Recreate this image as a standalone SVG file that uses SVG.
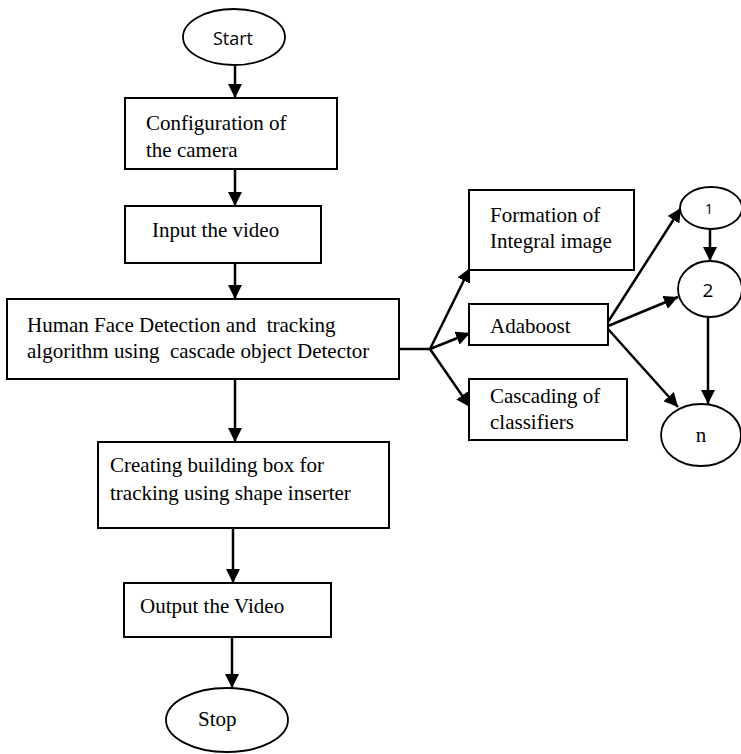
<svg xmlns="http://www.w3.org/2000/svg" width="741" height="754" viewBox="0 0 741 754">
  <defs>
    <marker id="arrow" markerUnits="userSpaceOnUse" markerWidth="14" markerHeight="14" viewBox="0 0 14 14" refX="14" refY="7" orient="auto">
      <path d="M0,0 L14,7 L0,14 Z" fill="#000"/>
    </marker>
    <style>
      .box { fill: #fff; stroke: #000; stroke-width: 2; }
      .term { fill: #fff; stroke: #000; stroke-width: 1.8; }
      .serif { font-family: "Liberation Serif", "Times New Roman", serif; font-size: 21px; fill: #000; }
      .sans { font-family: "Open Sans", "Liberation Sans", sans-serif; fill: #000; }
      .conn line { stroke: #000; stroke-width: 2.5; }
      .conn .arr { marker-end: url(#arrow); }
    </style>
  </defs>
  <rect width="741" height="754" fill="#fff"/>

  <g id="connectors" class="conn">
    <line class="arr" x1="235" y1="65" x2="235" y2="98"/>
    <line class="arr" x1="235" y1="169" x2="235" y2="206"/>
    <line class="arr" x1="235" y1="263" x2="235" y2="299"/>
    <line class="arr" x1="235" y1="379" x2="235" y2="442"/>
    <line class="arr" x1="233" y1="528" x2="233" y2="583"/>
    <line class="arr" x1="232" y1="637" x2="232" y2="688"/>
    <line x1="399" y1="349" x2="430" y2="349"/>
    <line class="arr" x1="430" y1="349" x2="470" y2="268"/>
    <line class="arr" x1="430" y1="349" x2="470" y2="333"/>
    <line class="arr" x1="430" y1="349" x2="470" y2="407"/>
    <line class="arr" x1="608" y1="322" x2="681" y2="208"/>
    <line class="arr" x1="608" y1="326" x2="678" y2="297"/>
    <line class="arr" x1="608" y1="329" x2="678" y2="407"/>
    <line class="arr" x1="710" y1="229" x2="710" y2="261"/>
    <line class="arr" x1="708" y1="317" x2="708" y2="404"/>
  </g>

  <g id="start">
    <ellipse class="term" cx="234" cy="37" rx="51" ry="28"/>
    <text class="sans" x="233" y="45" font-size="18" text-anchor="middle">Start</text>
  </g>

  <g id="configure">
    <rect class="box" x="125" y="98" width="212" height="71"/>
    <text class="serif" x="146" y="130">Configuration of</text>
    <text class="serif" x="146" y="157">the camera</text>
  </g>

  <g id="input">
    <rect class="box" x="125" y="206" width="196" height="57"/>
    <text class="serif" x="152" y="237">Input the video</text>
  </g>

  <g id="detect">
    <rect class="box" x="7" y="299" width="392" height="80"/>
    <text class="serif" x="27" y="332" xml:space="preserve">Human Face Detection and  tracking</text>
    <text class="serif" x="27" y="358" xml:space="preserve">algorithm using  cascade object Detector</text>
  </g>

  <g id="integral">
    <rect class="box" x="469" y="190" width="165" height="80"/>
    <text class="serif" x="490" y="222">Formation of</text>
    <text class="serif" x="490" y="248">Integral image</text>
  </g>

  <g id="adaboost">
    <rect class="box" x="469" y="304" width="139" height="41"/>
    <text class="serif" x="490" y="333">Adaboost</text>
  </g>

  <g id="cascade">
    <rect class="box" x="469" y="379" width="158" height="61"/>
    <text class="serif" x="490" y="403">Cascading of</text>
    <text class="serif" x="490" y="429">classifiers</text>
  </g>

  <g id="stage1">
    <ellipse class="term" cx="711" cy="208" rx="31" ry="21"/>
    <text class="sans" x="709" y="214" font-size="14" text-anchor="middle">1</text>
  </g>

  <g id="stage2">
    <ellipse class="term" cx="710" cy="289" rx="32" ry="28"/>
    <text class="sans" x="708" y="297" font-size="19" text-anchor="middle">2</text>
  </g>

  <g id="stageN">
    <ellipse class="term" cx="701" cy="435" rx="40" ry="31"/>
    <text class="serif" x="701" y="442" font-size="22" text-anchor="middle">n</text>
  </g>

  <g id="creating">
    <rect class="box" x="98" y="442" width="291" height="86"/>
    <text class="serif" x="110" y="472">Creating building box for</text>
    <text class="serif" x="110" y="500">tracking using shape inserter</text>
  </g>

  <g id="output">
    <rect class="box" x="124" y="583" width="207" height="54"/>
    <text class="serif" x="140" y="613">Output the Video</text>
  </g>

  <g id="stop">
    <ellipse class="term" cx="227" cy="720" rx="61" ry="32"/>
    <text class="serif" x="198" y="726">Stop</text>
  </g>
</svg>
